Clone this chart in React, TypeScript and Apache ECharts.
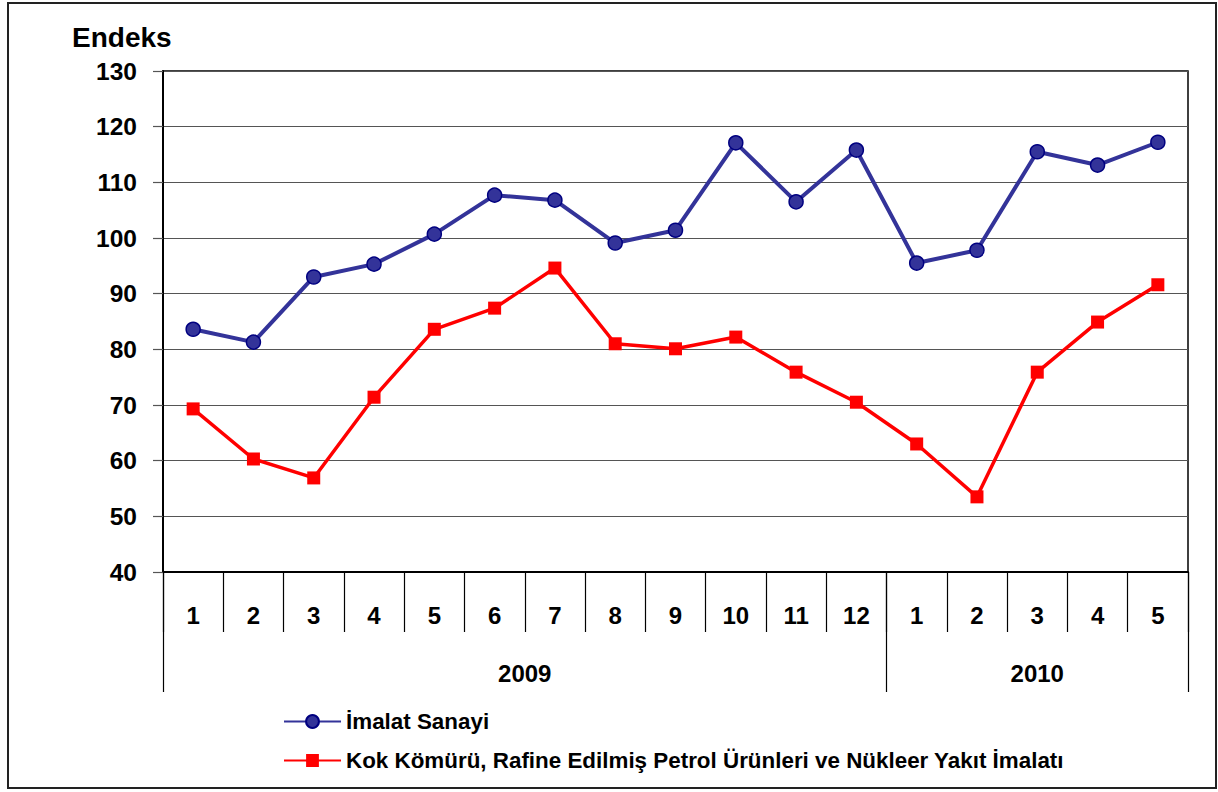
import React, { useEffect, useRef } from "react";
import * as echarts from "echarts";

const months = ["1", "2", "3", "4", "5", "6", "7", "8", "9", "10", "11", "12", "1", "2", "3", "4", "5"];
const years = ["2009", "2010"];
const yearMonthCounts = [12, 5];
const imalatSanayi = [83.6, 81.3, 93.0, 95.3, 100.7, 107.7, 106.8, 99.1, 101.4, 117.1, 106.5, 115.8, 95.5, 97.8, 115.5, 113.1, 117.2];
const kokKomuru = [69.3, 60.3, 56.9, 71.4, 83.6, 87.4, 94.6, 81.0, 80.1, 82.2, 75.9, 70.5, 63.0, 53.5, 75.9, 84.9, 91.6];
const seriesNames = [
  "İmalat Sanayi",
  "Kok Kömürü, Rafine Edilmiş Petrol Ürünleri ve Nükleer Yakıt İmalatı",
];
const yMin = 40;
const yMax = 130;
const yStep = 10;

const FONT = "'Liberation Sans', Arial, sans-serif";

export default function App() {
  const ref = useRef<HTMLDivElement>(null);
  useEffect(() => {
    if (!ref.current) return;
    const chart = echarts.init(ref.current, undefined, { renderer: "svg" });

    const boundaries: number[] = [];
    const centers: Record<string, string> = {};
    let acc = 0;
    yearMonthCounts.forEach((c, i) => {
      boundaries.push(acc);
      centers[String(acc + c / 2)] = years[i];
      acc += c;
    });

    chart.setOption({
      animation: false,
      backgroundColor: "#fff",
      textStyle: { fontFamily: FONT },
      title: {
        text: "Endeks",
        left: 72,
        top: 23,
        padding: 0,
        textStyle: { fontFamily: FONT, fontWeight: "bold", fontSize: 28, color: "#000" },
      },
      graphic: [
        {
          type: "rect",
          shape: { x: 8, y: 3, width: 1208, height: 785 },
          style: { fill: "none", stroke: "#222", lineWidth: 2 },
          silent: true,
          z: -1,
        },
      ],
      grid: {
        left: 163,
        top: 71,
        right: 30,
        bottom: 220,
        show: true,
        borderColor: "#000",
        borderWidth: 1.5,
        backgroundColor: "transparent",
      },
      legend: {
        orient: "vertical",
        left: 283,
        top: 710,
        padding: 0,
        itemWidth: 57,
        itemHeight: 16,
        itemGap: 16,
        textStyle: { fontFamily: FONT, fontWeight: "bold", fontSize: 22.4, color: "#000", lineHeight: 23 },
        data: seriesNames,
      },
      xAxis: [
        {
          type: "category",
          data: months,
          position: "bottom",
          boundaryGap: true,
          axisLine: { show: true, lineStyle: { color: "#000", width: 2 } },
          axisTick: { show: true, interval: 0, length: 60, lineStyle: { color: "#000", width: 1.2 } },
          axisLabel: { interval: 0, margin: 31, fontFamily: FONT, fontWeight: "bold", fontSize: 24, color: "#000" },
          splitLine: { show: false },
        },
        {
          type: "category",
          data: months,
          position: "bottom",
          boundaryGap: true,
          axisLine: { show: false },
          axisTick: {
            show: true,
            interval: (index: number) => boundaries.indexOf(index) >= 0,
            length: 120,
            lineStyle: { color: "#000", width: 1.2 },
          },
          axisLabel: { show: false },
          splitLine: { show: false },
        },
        {
          type: "value",
          position: "bottom",
          min: 0,
          max: months.length,
          interval: 0.5,
          axisLine: { show: false },
          axisTick: { show: false },
          splitLine: { show: false },
          axisLabel: {
            margin: 89,
            fontFamily: FONT,
            fontWeight: "bold",
            fontSize: 24,
            color: "#000",
            showMinLabel: true,
            showMaxLabel: true,
            formatter: (v: number) => centers[String(v)] || "",
          },
        },
      ],
      yAxis: {
        type: "value",
        min: yMin,
        max: yMax,
        interval: yStep,
        axisLine: { show: true, lineStyle: { color: "#000", width: 2 } },
        axisTick: { show: true, length: 10, lineStyle: { color: "#555", width: 1.2 } },
        axisLabel: { margin: 26, fontFamily: FONT, fontWeight: "bold", fontSize: 24.5, color: "#000" },
        splitLine: { show: true, lineStyle: { color: "#555", width: 1.2 } },
      },
      series: [
        {
          name: seriesNames[0],
          type: "line",
          xAxisIndex: 0,
          data: imalatSanayi,
          symbol: "circle",
          symbolSize: 14,
          itemStyle: { color: "#333399", borderColor: "#000080", borderWidth: 1.5 },
          lineStyle: { color: "#333399", width: 4 },
          z: 3,
        },
        {
          name: seriesNames[1],
          type: "line",
          xAxisIndex: 0,
          data: kokKomuru,
          symbol: "rect",
          symbolSize: 13,
          itemStyle: { color: "#ff0000" },
          lineStyle: { color: "#ff0000", width: 3.5 },
          z: 2,
        },
      ],
    });
    return () => chart.dispose();
  }, []);
  return (
    <div style={{ position: "absolute", left: 0, top: 0, width: 1218, height: 792 }}>
      <div ref={ref} style={{ width: 1218, height: 792 }} />
    </div>
  );
}
